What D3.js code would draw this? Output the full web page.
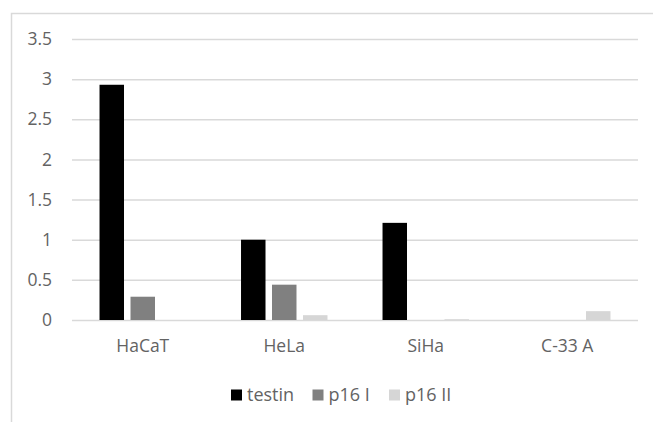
<!DOCTYPE html>
<html>
<head>
<meta charset="utf-8">
<script src="https://cdn.jsdelivr.net/npm/d3@7"></script>
<style>
  html, body { margin: 0; padding: 0; background: #fff; }
  svg { display: block; }
  text { font-family: "Open Sans", "Noto Sans", sans-serif; fill: #636363; }
</style>
</head>
<body>
<svg id="chart" width="653" height="422"></svg>
<script>
// Relative expression per cell line
const cellLines = ["HaCaT", "HeLa", "SiHa", "C-33 A"];
const seriesNames = ["testin", "p16 I", "p16 II"];
const testin = [2.93, 1.0, 1.21, 0];
const p16I = [0.29, 0.44, 0, 0];
const p16II = [0, 0.06, 0.01, 0.11];
const yTicks = [0, 0.5, 1, 1.5, 2, 2.5, 3, 3.5];
const seriesColors = ["#000000", "#808080", "#d6d6d6"];

const seriesValues = [testin, p16I, p16II];
const rows = cellLines.map((c, i) => ({
  cell: c,
  values: seriesNames.map((s, k) => ({ series: s, value: seriesValues[k][i] }))
}));

const svg = d3.select("#chart");
const plot = { left: 72, right: 638, top: 39, bottom: 320 };

// Outer chart frame
svg.append("rect")
  .attr("x", 11.5).attr("y", 13.5)
  .attr("width", 700).attr("height", 500)
  .attr("fill", "none").attr("stroke", "#d9d9d9").attr("stroke-width", 1.5);

const x0 = d3.scaleBand()
  .domain(cellLines)
  .range([plot.left, plot.right])
  .paddingInner(0.389)
  .paddingOuter(0.1945);

const x1 = d3.scaleBand()
  .domain(seriesNames)
  .range([0, x0.bandwidth()])
  .paddingInner(0.21)
  .paddingOuter(0);

const y = d3.scaleLinear()
  .domain([0, 3.5])
  .range([plot.bottom, plot.top]);

const color = d3.scaleOrdinal().domain(seriesNames).range(seriesColors);

// Horizontal gridlines and value labels
const yAxis = d3.axisLeft(y)
  .tickValues(yTicks)
  .tickFormat(d3.format("~g"))
  .tickSize(-(plot.right - plot.left))
  .tickPadding(20);

const gy = svg.append("g")
  .attr("transform", `translate(${plot.left},0)`)
  .call(yAxis);
gy.select(".domain").remove();
gy.selectAll(".tick line").attr("stroke", "#d9d9d9").attr("stroke-width", 1.5);
gy.selectAll(".tick text")
  .attr("font-size", 17.5)
  .style("fill", "#636363");

// Grouped bars
const groups = svg.append("g").selectAll("g")
  .data(rows)
  .join("g")
  .attr("transform", d => `translate(${x0(d.cell)},0)`);

groups.selectAll("rect")
  .data(d => d.values)
  .join("rect")
  .attr("x", d => x1(d.series))
  .attr("y", d => y(d.value))
  .attr("width", x1.bandwidth())
  .attr("height", d => y(0) - y(d.value))
  .attr("fill", d => color(d.series));

// Category labels
const xAxis = d3.axisBottom(x0).tickSize(0).tickPadding(20);
const gx = svg.append("g")
  .attr("transform", `translate(0,${plot.bottom})`)
  .call(xAxis);
gx.select(".domain").remove();
gx.selectAll(".tick text")
  .attr("font-size", 17.5)
  .style("fill", "#636363");

// Legend
const legendItems = [
  { name: "testin", x: 231 },
  { name: "p16 I", x: 312.5 },
  { name: "p16 II", x: 389 }
];
const legend = svg.append("g");
legend.selectAll("rect")
  .data(legendItems)
  .join("rect")
  .attr("x", d => d.x)
  .attr("y", 389.5)
  .attr("width", 11)
  .attr("height", 11)
  .attr("fill", d => color(d.name));
legend.selectAll("text")
  .data(legendItems)
  .join("text")
  .attr("x", d => d.x + 16)
  .attr("y", 395)
  .attr("dy", "0.35em")
  .attr("font-size", 18)
  .text(d => d.name);
</script>
</body>
</html>
